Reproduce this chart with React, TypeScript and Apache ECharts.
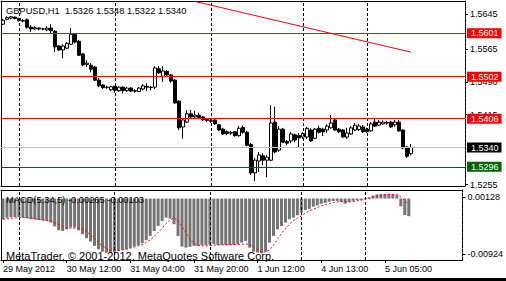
import { useEffect, useRef } from "react";
import * as echarts from "echarts";

const FONT = '"Liberation Sans", Arial, sans-serif';

const titleText = "GBPUSD,H1  1.5326 1.5348 1.5322 1.5340";
const macdText = "MACD(5,34,5) -0.00265 -0.00103";
const copyrightText = "MetaTrader, \u00a9 2001-2012, MetaQuotes Software Corp.";

function hourRange(a: number, b: number): number[] {
  const r: number[] = [];
  for (let h = a; h <= b; h++) r.push(h);
  return r;
}

// trading hours per day (H1 bars)
const sessions: [string, number[]][] = [
  ["2012.05.29", hourRange(20, 23)],
  ["2012.05.30", hourRange(0, 23)],
  ["2012.05.31", hourRange(0, 23)],
  ["2012.06.01", hourRange(0, 22)],
  ["2012.06.04", [0, 5, 9, 11, 12, ...hourRange(13, 23)]],
  ["2012.06.05", hourRange(0, 11)],
];
const barTimes: string[] = sessions.flatMap(([d, hs]) =>
  hs.map((h) => `${d} ${String(h).padStart(2, "0")}:00`)
);
const emptySlots = 13;
const categories: string[] = [
  ...barTimes,
  ...Array.from({ length: emptySlots }, (_, k) => `future ${k + 1}`),
];

// [open, high, low, close]
const candles: [number, number, number, number][] = [
  [1.5622, 1.5634, 1.562, 1.5631],
  [1.5633, 1.564, 1.5631, 1.5637],
  [1.5636, 1.5641, 1.5633, 1.5639],
  [1.5638, 1.564, 1.5633, 1.5635],
  [1.5635, 1.5637, 1.5628, 1.563],
  [1.563, 1.5634, 1.5626, 1.5629],
  [1.5632, 1.5635, 1.5612, 1.5615],
  [1.5615, 1.562, 1.5604, 1.5611],
  [1.5611, 1.5617, 1.5609, 1.5614],
  [1.5613, 1.5615, 1.5608, 1.5611],
  [1.5611, 1.5614, 1.5608, 1.5611],
  [1.5609, 1.5617, 1.5606, 1.5613],
  [1.5613, 1.5622, 1.5602, 1.5607],
  [1.5606, 1.5608, 1.5558, 1.557],
  [1.5572, 1.5574, 1.5561, 1.5563],
  [1.5563, 1.5576, 1.5544, 1.5572],
  [1.5567, 1.5581, 1.5565, 1.5578],
  [1.5576, 1.5613, 1.5574, 1.5599],
  [1.5599, 1.5601, 1.5578, 1.5581],
  [1.5583, 1.5586, 1.5549, 1.5551],
  [1.5554, 1.5556, 1.5526, 1.5529],
  [1.553, 1.554, 1.5524, 1.5533],
  [1.5528, 1.5533, 1.5512, 1.5519],
  [1.5524, 1.5526, 1.5492, 1.5494],
  [1.5494, 1.5499, 1.5478, 1.5481],
  [1.5483, 1.5485, 1.5474, 1.5477],
  [1.5478, 1.5481, 1.5474, 1.5477],
  [1.5472, 1.5481, 1.5469, 1.5479],
  [1.548, 1.5481, 1.5465, 1.5471],
  [1.547, 1.548, 1.5467, 1.5478],
  [1.5478, 1.548, 1.5464, 1.547],
  [1.547, 1.5479, 1.5467, 1.5476],
  [1.5476, 1.5478, 1.5467, 1.5469],
  [1.547, 1.5473, 1.5465, 1.5469],
  [1.5468, 1.5478, 1.5467, 1.5476],
  [1.5474, 1.5485, 1.5471, 1.5481],
  [1.548, 1.5487, 1.5469, 1.5478],
  [1.5478, 1.5481, 1.5471, 1.5477],
  [1.5478, 1.5526, 1.5474, 1.5522],
  [1.552, 1.5526, 1.5508, 1.5511],
  [1.5503, 1.5526, 1.549, 1.5515],
  [1.5514, 1.5517, 1.5503, 1.5506],
  [1.5506, 1.5508, 1.5488, 1.5492],
  [1.5494, 1.5497, 1.544, 1.5442],
  [1.5446, 1.5448, 1.538, 1.5385],
  [1.5387, 1.5405, 1.536, 1.5403],
  [1.5398, 1.5425, 1.5396, 1.5417],
  [1.5417, 1.5426, 1.5405, 1.541],
  [1.541, 1.5423, 1.5405, 1.5414],
  [1.5414, 1.542, 1.5405, 1.5409],
  [1.541, 1.5412, 1.5401, 1.5403],
  [1.5404, 1.5407, 1.5398, 1.5402],
  [1.5402, 1.5406, 1.5396, 1.54],
  [1.5403, 1.5405, 1.5392, 1.5394],
  [1.5392, 1.5394, 1.5378, 1.538],
  [1.5382, 1.5385, 1.5369, 1.5371],
  [1.5376, 1.5379, 1.5368, 1.5372],
  [1.5374, 1.5378, 1.5369, 1.5373],
  [1.5376, 1.5378, 1.5365, 1.5367],
  [1.5367, 1.5389, 1.5365, 1.5384],
  [1.5386, 1.539, 1.5372, 1.5375],
  [1.5375, 1.5378, 1.5343, 1.5345],
  [1.5347, 1.535, 1.5277, 1.5282],
  [1.5282, 1.5316, 1.5263, 1.5311],
  [1.5309, 1.533, 1.5284, 1.5323],
  [1.5321, 1.5327, 1.53, 1.5311],
  [1.5311, 1.5323, 1.5272, 1.5318],
  [1.5311, 1.5437, 1.5309, 1.5396],
  [1.5398, 1.5433, 1.5327, 1.533],
  [1.5334, 1.5389, 1.533, 1.5382],
  [1.5382, 1.5385, 1.535, 1.5352],
  [1.5354, 1.5357, 1.5345, 1.535],
  [1.5355, 1.5375, 1.535, 1.5371],
  [1.5369, 1.5372, 1.5352, 1.5357],
  [1.5367, 1.5373, 1.5339, 1.5362],
  [1.5364, 1.5375, 1.536, 1.5372],
  [1.5364, 1.5387, 1.536, 1.5384],
  [1.538, 1.5384, 1.5353, 1.5355],
  [1.5361, 1.5385, 1.5359, 1.5382],
  [1.5384, 1.539, 1.5372, 1.5375],
  [1.5382, 1.5385, 1.5366, 1.5376],
  [1.538, 1.5393, 1.5374, 1.5389],
  [1.5385, 1.5414, 1.5383, 1.5396],
  [1.5403, 1.5407, 1.5378, 1.538],
  [1.5382, 1.5385, 1.5373, 1.5376],
  [1.538, 1.5382, 1.5362, 1.5364],
  [1.5364, 1.5385, 1.536, 1.5373],
  [1.5371, 1.5389, 1.5369, 1.5385],
  [1.538, 1.5396, 1.5378, 1.5391],
  [1.5381, 1.5394, 1.5378, 1.5389],
  [1.5387, 1.5391, 1.5373, 1.5376],
  [1.5382, 1.5385, 1.5374, 1.5376],
  [1.5378, 1.5398, 1.5376, 1.5394],
  [1.5398, 1.5407, 1.5387, 1.5389],
  [1.5391, 1.5403, 1.5389, 1.5398],
  [1.5394, 1.5402, 1.5392, 1.5398],
  [1.5397, 1.5401, 1.5392, 1.5396],
  [1.5398, 1.5401, 1.5385, 1.5387],
  [1.5392, 1.5403, 1.5387, 1.5398],
  [1.5398, 1.5403, 1.5376, 1.5378],
  [1.538, 1.5382, 1.5336, 1.5339],
  [1.5341, 1.5343, 1.5316, 1.532],
  [1.5326, 1.5348, 1.5322, 1.534],
];

const macdHist: number[] = [
  -0.00312, -0.0029, -0.0028, -0.00278, -0.00278, -0.00287, -0.00297, -0.0031,
  -0.00317, -0.00325, -0.0033, -0.00335, -0.0036, -0.0042, -0.00477, -0.00487,
  -0.00462, -0.00437, -0.00437, -0.00477, -0.00537, -0.00597, -0.00647, -0.00712,
  -0.00762, -0.00798, -0.00813, -0.0081, -0.00803, -0.00788, -0.00773, -0.00762,
  -0.00742, -0.00722, -0.00702, -0.00672, -0.00627, -0.00562, -0.00487, -0.00412,
  -0.00337, -0.00287, -0.00302, -0.00387, -0.00562, -0.00722, -0.00738, -0.00727,
  -0.00712, -0.00712, -0.00702, -0.00702, -0.00697, -0.00687, -0.00697, -0.00697,
  -0.00697, -0.00702, -0.00697, -0.00687, -0.00662, -0.00637, -0.00738, -0.00798,
  -0.00813, -0.00823, -0.00798, -0.00662, -0.00562, -0.00462, -0.00412, -0.00362,
  -0.00312, -0.00287, -0.00251, -0.00208, -0.00175, -0.00155, -0.00122, -0.00103,
  -0.00078, -0.00066, -0.00048, -0.00038, -0.00036, -0.00053, -0.00076, -0.00053,
  -0.00034, -0.00024, -0.00021, -0.00008, 0.0002, 0.00045, 0.00062, 0.00066,
  0.00066, 0.00066, 0.00066, 0.0005, -0.00118, -0.00248, -0.00265,
];

const macdSignal: number[] = [
  -0.00312, -0.00302, -0.00297, -0.00292, -0.00287, -0.00287, -0.00287, -0.00292,
  -0.00302, -0.00312, -0.00322, -0.00332, -0.00342, -0.00362, -0.00392, -0.00417,
  -0.00437, -0.00447, -0.00447, -0.00447, -0.00462, -0.00497, -0.00547, -0.00602,
  -0.00662, -0.00712, -0.00752, -0.00778, -0.00783, -0.00778, -0.00773, -0.00763,
  -0.00747, -0.00732, -0.00712, -0.00692, -0.00662, -0.00622, -0.00572, -0.00512,
  -0.00447, -0.00377, -0.00322, -0.00292, -0.00337, -0.00422, -0.00512, -0.00612,
  -0.00672, -0.00702, -0.00712, -0.00712, -0.00707, -0.00702, -0.00697, -0.00697,
  -0.00697, -0.00692, -0.00692, -0.00692, -0.00687, -0.00682, -0.00692, -0.00727,
  -0.00773, -0.00803, -0.00803, -0.00773, -0.00702, -0.00612, -0.00527, -0.00452,
  -0.00387, -0.00332, -0.00297, -0.00261, -0.00221, -0.00186, -0.00161, -0.00136,
  -0.00111, -0.00091, -0.00076, -0.00061, -0.00051, -0.00046, -0.00051, -0.00051,
  -0.00046, -0.00036, -0.00026, -0.00011, -0.00001, 0.00014, 0.00034, 0.00049,
  0.00059, 0.00064, 0.00064, 0.00059, 0.00024, -0.00036, -0.00103,
];

const xAxisLabels: [string, string][] = [
  ["2012.05.29 20:00", "29 May 2012"],
  ["2012.05.30 12:00", "30 May 12:00"],
  ["2012.05.31 04:00", "31 May 04:00"],
  ["2012.05.31 20:00", "31 May 20:00"],
  ["2012.06.01 12:00", "1 Jun 12:00"],
  ["2012.06.04 13:00", "4 Jun 13:00"],
  ["2012.06.05 05:00", "5 Jun 05:00"],
];
const periodSeparators: string[] = [
  "2012.05.30 00:00",
  "2012.05.31 00:00",
  "2012.06.01 00:00",
  "2012.06.04 00:00",
  "2012.06.05 00:00",
];

const priceTicks: number[] = [1.5645, 1.5565, 1.549, 1.5415, 1.5255];
const priceMin = 1.5252;
const priceMax = 1.5675;
const resistanceLevels: number[] = [1.5601, 1.5502, 1.5406];
const bidPrice = 1.534;
const supportLevel = 1.5296;
const trendFrom: [string, number] = ["2012.05.31 20:00", 1.5674];
const trendTo: [string, number] = ["2012.06.05 11:00", 1.5558];

const macdMin = -0.00924;
const macdMax = 0.00128;
const macdAxisLabels: string[] = ["0.00128", "-0.00924"];

export default function App() {
  const ref = useRef<HTMLDivElement>(null);

  useEffect(() => {
    if (!ref.current) return;
    const chart = echarts.init(ref.current, undefined, { renderer: "svg" });

    const labelMap = new Map(xAxisLabels);
    const macdRange = macdMax - macdMin;
    const macdLabelValues = [macdMax - macdRange * 0.1, macdMin + macdRange * 0.08];

    const boxLabel = (bg: string) => ({
      show: true,
      position: "end",
      distance: 2,
      formatter: (p: any) => Number(p.value).toFixed(4),
      backgroundColor: bg,
      color: "#ffffff",
      fontSize: 9,
      fontFamily: FONT,
      lineHeight: 9,
      padding: [1, 3, 0, 4],
    });

    const sepLines = periodSeparators.map((t) => ({
      xAxis: t,
      lineStyle: { color: "#000000", type: [3, 2], width: 1 },
      label: { show: false },
    }));

    const catAxisBase = {
      type: "category",
      data: categories,
      boundaryGap: true,
      axisTick: { show: false },
      axisLabel: { show: false },
      splitLine: { show: false },
    };
    const frameLine = { show: true, onZero: false, lineStyle: { color: "#000000", width: 1 } };

    chart.setOption({
      animation: false,
      backgroundColor: "#ffffff",
      grid: [
        { left: 1, width: 464, top: 1, height: 185 },
        { left: 1, width: 464, top: 190, height: 70 },
      ],
      xAxis: [
        { ...catAxisBase, gridIndex: 0, position: "bottom", axisLine: frameLine },
        { ...catAxisBase, gridIndex: 0, position: "top", axisLine: frameLine },
        {
          ...catAxisBase,
          gridIndex: 1,
          position: "bottom",
          axisLine: frameLine,
          axisTick: {
            show: true,
            alignWithLabel: true,
            length: 3,
            interval: (_i: number, v: string) => labelMap.has(v),
            lineStyle: { color: "#000000" },
          },
          axisLabel: {
            show: true,
            interval: (_i: number, v: string) => labelMap.has(v),
            formatter: (v: string) => labelMap.get(v) ?? "",
            align: "left",
            margin: 4,
            fontSize: 9,
            fontFamily: FONT,
            color: "#000000",
          },
        },
        { ...catAxisBase, gridIndex: 1, position: "top", axisLine: frameLine },
      ],
      yAxis: [
        {
          type: "value",
          gridIndex: 0,
          position: "right",
          min: priceMin,
          max: priceMax,
          splitLine: { show: false },
          axisLine: { show: true, onZero: false, lineStyle: { color: "#000000", type: [3, 1] } },
          axisTick: {
            show: true,
            length: 3,
            customValues: priceTicks,
            lineStyle: { color: "#000000" },
          },
          axisLabel: {
            show: true,
            customValues: priceTicks,
            formatter: (v: number) => v.toFixed(4),
            margin: 5,
            fontSize: 9,
            fontFamily: FONT,
            color: "#000000",
          },
        },
        {
          type: "value",
          gridIndex: 0,
          position: "left",
          min: priceMin,
          max: priceMax,
          splitLine: { show: false },
          axisLine: frameLine,
          axisTick: { show: false },
          axisLabel: { show: false },
        },
        {
          type: "value",
          gridIndex: 1,
          position: "right",
          min: macdMin,
          max: macdMax,
          splitLine: { show: false },
          axisLine: { show: true, onZero: false, lineStyle: { color: "#000000", type: [3, 1] } },
          axisTick: {
            show: true,
            length: 3,
            customValues: macdLabelValues,
            lineStyle: { color: "#000000" },
          },
          axisLabel: {
            show: true,
            customValues: macdLabelValues,
            formatter: (v: number) => (v > 0 ? macdAxisLabels[0] : macdAxisLabels[1]),
            margin: 5,
            fontSize: 9,
            fontFamily: FONT,
            color: "#000000",
          },
        },
        {
          type: "value",
          gridIndex: 1,
          position: "left",
          min: macdMin,
          max: macdMax,
          splitLine: { show: false },
          axisLine: frameLine,
          axisTick: { show: false },
          axisLabel: { show: false },
        },
      ],
      series: [
        {
          type: "candlestick",
          xAxisIndex: 0,
          yAxisIndex: 0,
          barWidth: 3,
          data: candles.map(([o, h, l, c]) => [o, c, l, h]),
          itemStyle: {
            color: "#ffffff",
            color0: "#000000",
            borderColor: "#000000",
            borderColor0: "#000000",
            borderColorDoji: "#000000",
            borderWidth: 1,
          },
          markLine: {
            silent: true,
            symbol: ["none", "none"],
            animation: false,
            precision: 4,
            data: [
              ...sepLines,
              ...resistanceLevels.map((v) => ({
                yAxis: v,
                lineStyle: { color: "#ff0000", type: "solid", width: 1 },
                label: boxLabel("#ff0000"),
              })),
              {
                yAxis: bidPrice,
                lineStyle: { color: "#c0c0c0", type: "solid", width: 1 },
                label: boxLabel("#000000"),
              },
              {
                yAxis: supportLevel,
                lineStyle: { color: "#006400", type: "solid", width: 1 },
                label: boxLabel("#006400"),
              },
              [
                {
                  coord: trendFrom,
                  lineStyle: { color: "#ff0000", type: "solid", width: 1 },
                  label: { show: false },
                },
                { coord: trendTo },
              ],
            ],
          },
        },
        {
          type: "bar",
          xAxisIndex: 2,
          yAxisIndex: 2,
          barWidth: 3,
          data: macdHist.map((v, i) => [barTimes[i], v]),
          itemStyle: { color: "#747474" },
          markLine: {
            silent: true,
            symbol: ["none", "none"],
            animation: false,
            data: sepLines,
          },
        },
        {
          type: "line",
          xAxisIndex: 2,
          yAxisIndex: 2,
          data: macdSignal.map((v, i) => [barTimes[i], v]),
          symbol: "none",
          showSymbol: false,
          lineStyle: { color: "#ff0000", width: 1, type: [2, 2] },
          z: 5,
        },
      ],
      graphic: [
        {
          type: "text",
          x: 6,
          y: 11,
          z: 100,
          style: { text: titleText, fill: "#000", fontSize: 9.3, fontFamily: FONT, verticalAlign: "middle" },
        },
        {
          type: "text",
          x: 6,
          y: 200,
          z: 100,
          style: { text: macdText, fill: "#000", fontSize: 9.3, fontFamily: FONT, verticalAlign: "middle" },
        },
        {
          type: "text",
          x: 6,
          y: 256,
          z: 100,
          style: { text: copyrightText, fill: "#000", fontSize: 11, fontFamily: FONT, verticalAlign: "middle" },
        },
        {
          type: "rect",
          z: 100,
          shape: { x: 0, y: 278, width: 506, height: 3 },
          style: { fill: "#000000" },
        },
      ],
    });

    return () => chart.dispose();
  }, []);

  return (
    <div
      ref={ref}
      style={{ position: "fixed", left: 0, top: 0, width: 506, height: 281, background: "#fff" }}
    />
  );
}
